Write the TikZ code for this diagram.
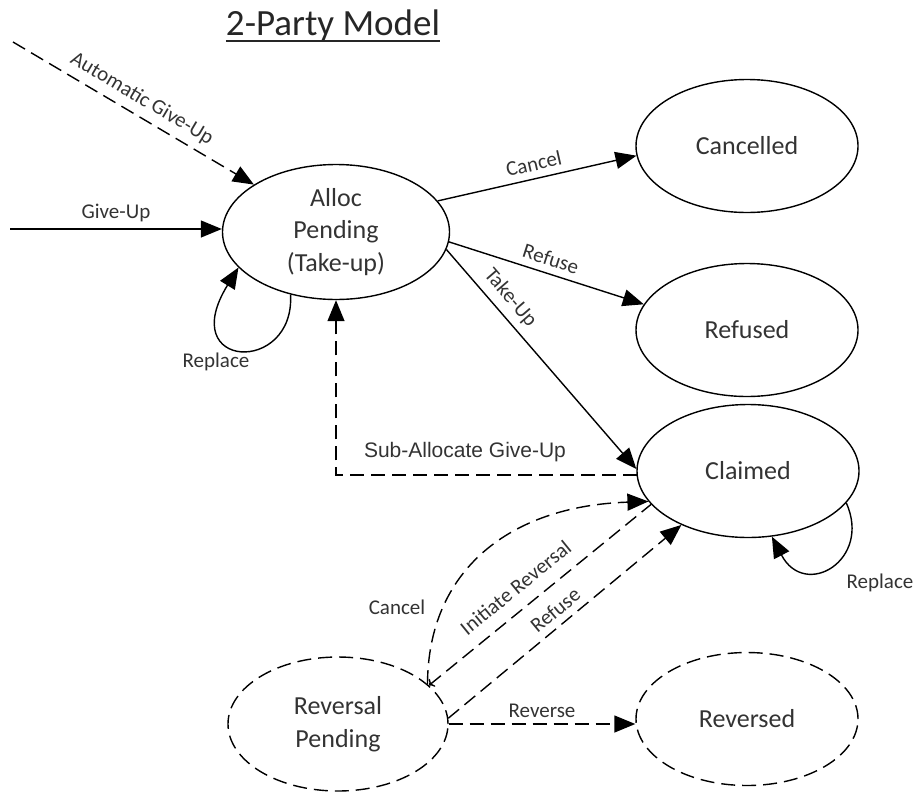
\documentclass[tikz,border=0pt]{standalone}
\usepackage{fontspec}
\setmainfont{Carlito}
\newfontfamily\arialfont{Liberation Sans}
\usetikzlibrary{shapes.geometric,arrows.meta,calc}
\begin{document}
\begin{tikzpicture}[x=1pt,y=-1pt,
  state/.style={ellipse,draw,line width=1.4pt,inner sep=0pt,align=center,
    minimum width=222pt,minimum height=133pt,
    font=\fontsize{26}{32.5}\selectfont,text=black!80},
  pendstate/.style={state,dash pattern=on 14pt off 7pt},
  trans/.style={line width=1.4pt,-{Triangle[length=21pt,width=17pt]}},
  dtrans/.style={trans,dash pattern=on 14pt off 7pt},
  lbl/.style={font=\fontsize{21}{24}\selectfont,text=black!80,inner sep=3pt},
  slbl/.style={lbl,sloped,above=4pt},
]
\useasboundingbox (0,0) rectangle (917,798);

% title
\node[font=\fontsize{37}{44}\selectfont,text=black!85,anchor=base,inner sep=0pt] (title) at (333,35) {2-Party Model};
\draw[line width=1.4pt,black!85] ([yshift=-6pt]title.base west) -- ([yshift=-6pt]title.base east);

% states
\node[state,minimum width=227pt,minimum height=135pt] (alloc) at (336,232) {Alloc\\Pending\\(Take-up)};
\node[state] (cancelled) at (747,146) {Cancelled};
\node[state] (refused) at (747,330) {Refused};
\node[state] (claimed) at (748,471) {Claimed};
\node[pendstate,minimum width=220pt,minimum height=134pt] (reversal) at (338,724) {Reversal\\Pending};
\node[pendstate] (reversed) at (747,719) {Reversed};

% free ends of incoming transitions
\coordinate (autostart) at (13,42);
\coordinate (givestart) at (10,229);

% incoming transitions
\draw[dtrans] (autostart) -- node[slbl] {Automatic Give-Up} (alloc.150);
\draw[trans] (givestart) -- node[lbl,above=3pt] {Give-Up} (givestart -| alloc.west);

% self loop on Alloc Pending
\draw[trans] (alloc.234) .. controls (295,375) and (175,370) .. (alloc.200);
\node[lbl] (replaceA) at (216,362) {Replace};

% transitions out of Alloc Pending
\draw[trans] (alloc.17) -- node[slbl] {Cancel} (cancelled.185);
\draw[trans] (alloc.-5) -- node[slbl] {Refuse} (refused.166);
\draw[trans] (alloc.-9) -- node[slbl,pos=0.27] {Take-Up} (claimed.179);

% sub-allocation back to Alloc Pending
\draw[dtrans] (claimed.182) -| (alloc.south);
\node[lbl,font=\arialfont\fontsize{21}{24}\selectfont] (sublbl) at (465,452) {Sub-Allocate Give-Up};

% self loop on Claimed
\draw[trans] (claimed.-18) .. controls (872,560) and (805,600) .. (claimed.-70);
\node[lbl] (replaceC) at (880,583) {Replace};

% reversal transitions
\draw[dtrans] (reversal.24) .. controls (428,570) and (510,506) .. (claimed.197);
\node[lbl] (cancelR) at (397,607) {Cancel};
\draw[dtrans,<-] (reversal.23) -- node[slbl,above=6pt,pos=0.45] {Initiate Reversal} (claimed.199);
\draw[dtrans] (reversal.3) -- node[slbl] {Refuse} (claimed.219);
\draw[dtrans] (reversal.east) -- node[lbl,above=3pt] {Reverse} (reversal.east -| reversed.west);
\end{tikzpicture}
\end{document}
